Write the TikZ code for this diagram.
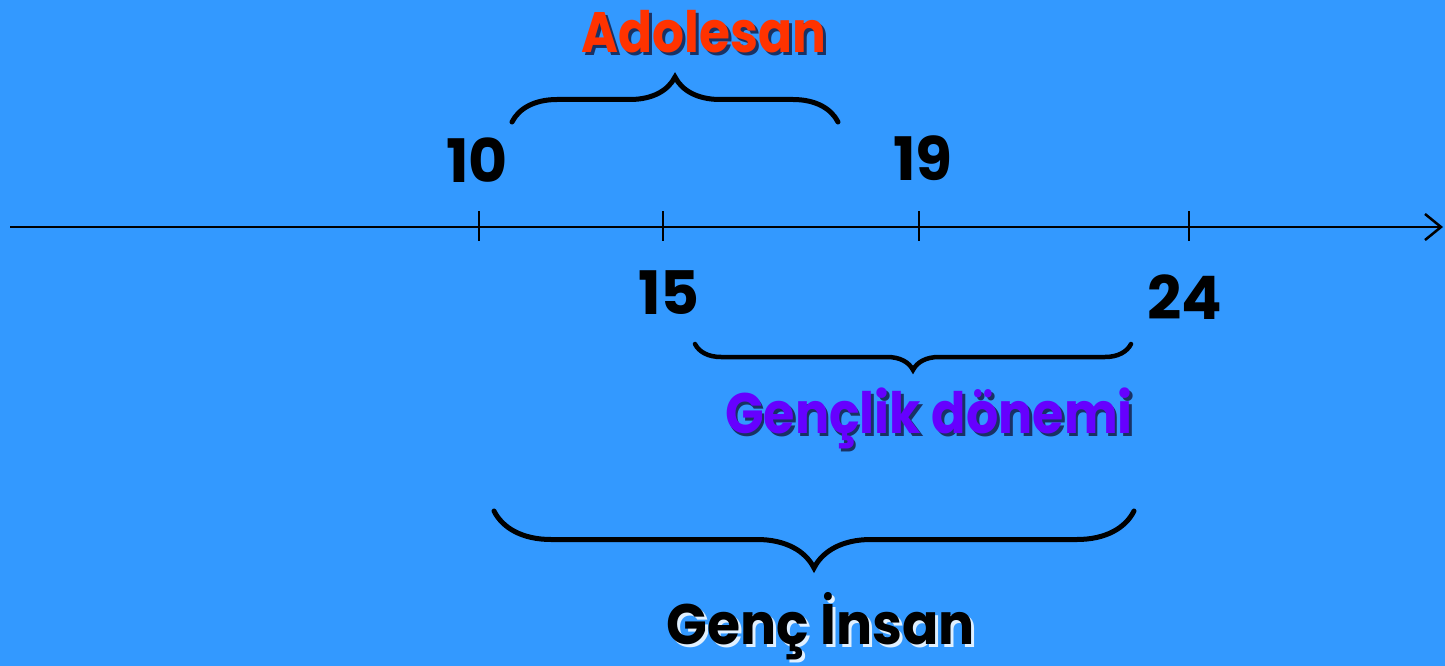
\documentclass[tikz,border=0pt]{standalone}
\usepackage{fontspec}
\setmainfont{Poppins}
\usetikzlibrary{decorations.pathreplacing,arrows.meta}
\definecolor{bg}{HTML}{3399FF}
\definecolor{adol}{HTML}{FF3300}
\definecolor{genc}{HTML}{6600FF}
\definecolor{shade}{HTML}{101030}
\newcommand\shtext[4]{\scalebox{#4}[1]{\rlap{\hspace*{3pt}\raisebox{-3pt}{\textcolor{#1}{#3}}}\textcolor{#2}{#3}}}
\tikzset{
  axisline/.style={line width=2.5pt, black},
  tickline/.style={line width=2pt, black},
  bracestyle/.style={line width=5pt, black, decorate, line cap=round},
  numlabel/.style={inner sep=0pt, font=\fontsize{60}{62}\selectfont\bfseries, text=black},
  biglabel/.style={inner sep=0pt, font=\fontsize{57}{60}\selectfont\bfseries},
}
\begin{document}
\begin{tikzpicture}[x=1pt,y=-1pt]
\fill[bg] (0,0) rectangle (1445,666);
\useasboundingbox (0,0) rectangle (1445,666);
% axis
\coordinate (a0) at (10,227);
\coordinate (a1) at (1443,227);
\draw[axisline, -{Straight Barb[length=16pt,width=26pt,line width=2.5pt]}] (a0) -- (a1);
% ticks
\foreach \n/\x in {t10/479, t15/663, t19/919, t24/1189}{
  \coordinate (\n a) at (\x,211);
  \coordinate (\n b) at (\x,241);
  \draw[tickline] (\n a) -- (\n b);
}
% numbers
\node[numlabel] (n10) at (477,160) {10};
\node[numlabel] (n19) at (923,158) {19};
\node[numlabel] (n15) at (669,293) {15};
\node[numlabel] (n24) at (1185,297) {24};
% braces
\coordinate (b1s) at (512,122);
\coordinate (b1e) at (838,122);
\draw[bracestyle, decoration={brace, amplitude=45pt}] (b1s) -- (b1e);
\coordinate (b2s) at (695,344);
\coordinate (b2e) at (1131,344);
\draw[bracestyle, line width=4.5pt, decoration={brace, amplitude=26pt, mirror}] (b2s) -- (b2e);
\coordinate (b3s) at (494,511);
\coordinate (b3e) at (1134,511);
\draw[bracestyle, decoration={brace, amplitude=57pt, mirror}] (b3s) -- (b3e);
% labels with shadows
\node[biglabel] (adolt) at (704,33) {\shtext{shade!75!bg}{adol}{Adolesan}{0.88}};
\node[biglabel] (genct) at (929,420) {\shtext{shade!75!bg}{genc}{Gençlik dönemi}{0.89}};
\node[biglabel] (insant) at (821,628) {\shtext{white!85!bg}{black}{Genç İnsan}{0.94}};
\end{tikzpicture}
\end{document}
